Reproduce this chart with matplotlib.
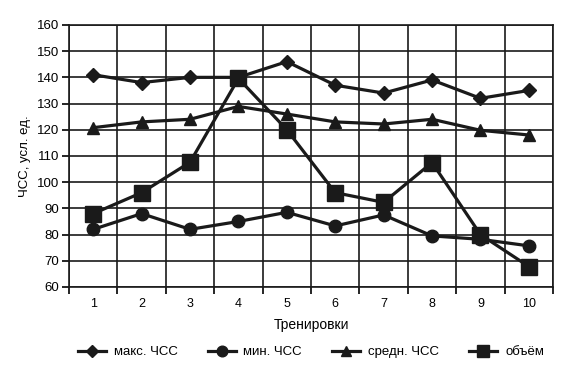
import matplotlib
matplotlib.use("Agg")
import matplotlib.pyplot as plt
import numpy as np

plt.rcParams['font.family'] = ['Liberation Sans', 'DejaVu Sans']

sessions = [1, 2, 3, 4, 5, 6, 7, 8, 9, 10]
hr_max = [141, 138, 140, 140, 146, 137, 134, 139, 132, 135]
hr_min = [82, 88, 82, 85, 88.5, 83.3, 87.5, 79.5, 78.2, 75.7]
hr_avg = [120.8, 123, 124, 128.9, 126, 123, 122.2, 124, 119.8, 118]
volume = [88, 96, 107.6, 139.6, 120, 96, 92.3, 107.5, 80, 67.8]

fig = plt.figure(figsize=(5.79, 3.82), dpi=100)
ax = fig.add_axes([0.1192, 0.2487, 0.836, 0.686])

ax.plot(sessions, hr_max, color='#1a1a1a', lw=2.3, marker='D', ms=7, label='макс. ЧСС')
ax.plot(sessions, hr_min, color='#1a1a1a', lw=2.3, marker='o', ms=9, label='мин. ЧСС')
ax.plot(sessions, hr_avg, color='#1a1a1a', lw=2.3, marker='^', ms=9, label='средн. ЧСС')
ax.plot(sessions, volume, color='#1a1a1a', lw=2.3, marker='s', ms=11, label='объём')

ax.set_xlim(0.5, 10.5)
ax.set_ylim(60, 160)
ax.set_yticks(np.arange(60, 161, 10))
ax.set_xticks(sessions)
ax.set_xticks(np.arange(0.5, 10.6, 1), minor=True)
ax.tick_params(axis='x', which='major', length=0, pad=8, labelsize=9)
ax.tick_params(axis='x', which='minor', length=5, width=1.2)
ax.tick_params(axis='y', length=5, width=1.2, labelsize=9.5, pad=2)
ax.grid(True, axis='y', color='#1a1a1a', lw=1.2)
ax.grid(True, axis='x', which='minor', color='#1a1a1a', lw=1.2)
for s in ax.spines.values():
    s.set_linewidth(1.2)
    s.set_color('#1a1a1a')
ax.set_axisbelow(True)

ax.set_xlabel('Тренировки', fontsize=10, labelpad=6)
ax.set_ylabel('ЧСС, усл. ед.', fontsize=9.5, labelpad=4)

# legend centred under the axes, not the figure
fig.legend(loc='center', bbox_to_anchor=(0.537, 0.078), ncol=4, frameon=False,
           fontsize=9.5, handlelength=2.1, columnspacing=2.3, handletextpad=0.6,
           markerscale=0.85)

fig.savefig('out.png', dpi=100)
